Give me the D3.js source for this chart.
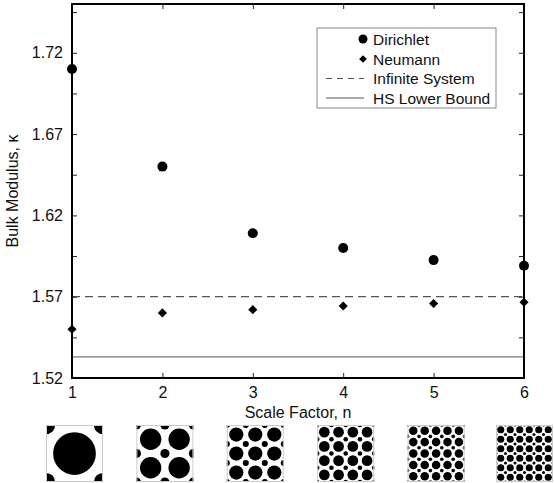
<!DOCTYPE html>
<html>
<head>
<meta charset="utf-8">
<script src="https://cdn.jsdelivr.net/npm/d3@7"></script>
<style>
  body { margin: 0; background: #fff; }
  svg text { font-family: "Liberation Sans", Arial, Helvetica, sans-serif; fill: #111; }
</style>
</head>
<body>
<svg width="554" height="483"></svg>
<script>
var scaleFactors = [1, 2, 3, 4, 5, 6];
var dirichlet = [1.710, 1.650, 1.609, 1.600, 1.5925, 1.589];
var neumann = [1.550, 1.560, 1.562, 1.5643, 1.5658, 1.5666];
var infiniteSystem = 1.570;
var hsLowerBound = 1.533;
var yTickLabels = [1.52, 1.57, 1.62, 1.67, 1.72];
var legendLabels = ["Dirichlet", "Neumann", "Infinite System", "HS Lower Bound"];

var svg = d3.select("svg");
var plotL = 72, plotR = 524, plotT = 4, plotB = 378;

var x = d3.scaleLinear().domain([1, 6]).range([plotL, plotR]);
var y = d3.scaleLinear().domain([1.52, 1.75]).range([plotB, plotT]);

var minorTicks = d3.range(0, 10).map(function(i) { return 1.52 + i * 0.025; });

// reference lines
svg.append("line")
    .attr("x1", plotL).attr("x2", plotR)
    .attr("y1", y(infiniteSystem)).attr("y2", y(infiniteSystem))
    .style("stroke", "#555").style("stroke-width", 1.3)
    .style("stroke-dasharray", "8,5");

svg.append("line")
    .attr("x1", plotL).attr("x2", plotR)
    .attr("y1", y(hsLowerBound)).attr("y2", y(hsLowerBound))
    .style("stroke", "#777").style("stroke-width", 1.2);

// axes with inward ticks on all sides
var ax = svg.append("g");
ax.append("g")
    .attr("transform", "translate(0," + plotB + ")")
    .call(d3.axisBottom(x).tickValues(scaleFactors).tickSize(-5).tickPadding(9).tickFormat(d3.format("d")));
ax.append("g")
    .attr("transform", "translate(0," + plotT + ")")
    .call(d3.axisTop(x).tickValues(scaleFactors).tickSize(-5).tickFormat(""));
ax.append("g")
    .attr("transform", "translate(" + plotL + ",0)")
    .call(d3.axisLeft(y).tickValues(minorTicks).tickSize(-5).tickPadding(9)
        .tickFormat(function(d) {
            var v = Math.round(d * 1000) / 1000;
            return yTickLabels.indexOf(v) >= 0 ? d3.format(".2f")(v) : "";
        }));
ax.append("g")
    .attr("transform", "translate(" + plotR + ",0)")
    .call(d3.axisRight(y).tickValues(minorTicks).tickSize(-5).tickFormat(""));

ax.selectAll(".domain").remove();
ax.selectAll(".tick line").style("stroke", "#222").style("stroke-width", 1);
ax.selectAll(".tick text").style("font-size", "16px").style("fill", "#111")
    .style("font-family", "'Liberation Sans', Arial, sans-serif");

svg.append("rect")
    .attr("x", plotL).attr("y", plotT)
    .attr("width", plotR - plotL).attr("height", plotB - plotT)
    .style("fill", "none").style("stroke", "#000").style("stroke-width", 2);

// axis titles
svg.append("text")
    .attr("x", (plotL + plotR) / 2).attr("y", 418)
    .attr("text-anchor", "middle")
    .style("font-size", "16px")
    .text("Scale Factor, n");

svg.append("text")
    .attr("transform", "translate(18," + ((plotT + plotB) / 2) + ") rotate(-90)")
    .attr("text-anchor", "middle")
    .style("font-size", "16px")
    .text("Bulk Modulus, \u03ba");

// data points
var diamond = d3.symbol().type(d3.symbolSquare).size(42);

svg.append("g").selectAll("circle")
    .data(dirichlet)
    .enter().append("circle")
    .attr("cx", function(d, i) { return x(scaleFactors[i]); })
    .attr("cy", function(d) { return y(d); })
    .attr("r", 5)
    .style("fill", "#000");

svg.append("g").selectAll("path")
    .data(neumann)
    .enter().append("path")
    .attr("d", diamond)
    .attr("transform", function(d, i) { return "translate(" + x(scaleFactors[i]) + "," + y(d) + ") rotate(45)"; })
    .style("fill", "#000");

// legend
var lg = svg.append("g");
lg.append("rect")
    .attr("x", 317).attr("y", 28).attr("width", 179).attr("height", 80)
    .style("fill", "#fff").style("stroke", "#888").style("stroke-width", 1);

var rowY = [39, 59, 78.5, 98];
lg.append("circle").attr("cx", 363).attr("cy", rowY[0]).attr("r", 4.5).style("fill", "#000");
lg.append("path").attr("d", d3.symbol().type(d3.symbolSquare).size(30))
    .attr("transform", "translate(363," + rowY[1] + ") rotate(45)").style("fill", "#000");
lg.append("line").attr("x1", 326).attr("x2", 364).attr("y1", rowY[2]).attr("y2", rowY[2])
    .style("stroke", "#555").style("stroke-width", 1).style("stroke-dasharray", "6,5");
lg.append("line").attr("x1", 326).attr("x2", 364).attr("y1", rowY[3]).attr("y2", rowY[3])
    .style("stroke", "#555").style("stroke-width", 1);

lg.selectAll("text.lab")
    .data(legendLabels)
    .enter().append("text")
    .attr("class", "lab")
    .attr("x", 373)
    .attr("y", function(d, i) { return rowY[i]; })
    .attr("dy", "0.36em")
    .style("font-size", "15.5px")
    .text(function(d) { return d; });

// microstructure unit cells below each scale factor
var boxSize = 57, boxTop = 425;
var defs = svg.append("defs");

scaleFactors.forEach(function(n) {
    var bx = x(n) - 26 - (n === 6 ? 2 : 0);
    var id = "clip" + n;
    defs.append("clipPath").attr("id", id)
        .append("rect").attr("x", bx).attr("y", boxTop).attr("width", boxSize).attr("height", boxSize);

    var g = svg.append("g").attr("clip-path", "url(#" + id + ")");
    g.append("rect").attr("x", bx).attr("y", boxTop).attr("width", boxSize).attr("height", boxSize)
        .style("fill", "#fff");

    var cell = boxSize / n;
    var big = [], small = [];
    d3.range(n).forEach(function(i) {
        d3.range(n).forEach(function(j) {
            big.push([bx + (i + 0.5) * cell, boxTop + (j + 0.5) * cell]);
        });
    });
    d3.range(n + 1).forEach(function(i) {
        d3.range(n + 1).forEach(function(j) {
            small.push([bx + i * cell, boxTop + j * cell]);
        });
    });

    g.selectAll("circle.big").data(big).enter().append("circle")
        .attr("class", "big")
        .attr("cx", function(d) { return d[0]; }).attr("cy", function(d) { return d[1]; })
        .attr("r", cell * 0.375).style("fill", "#000");
    g.selectAll("circle.small").data(small).enter().append("circle")
        .attr("class", "small")
        .attr("cx", function(d) { return d[0]; }).attr("cy", function(d) { return d[1]; })
        .attr("r", cell * 0.16).style("fill", "#000");

    svg.append("rect").attr("x", bx + 0.5).attr("y", boxTop + 0.5)
        .attr("width", boxSize - 1).attr("height", boxSize - 1)
        .style("fill", "none").style("stroke", "#ccc").style("stroke-width", 1);
});
</script>
</body>
</html>
